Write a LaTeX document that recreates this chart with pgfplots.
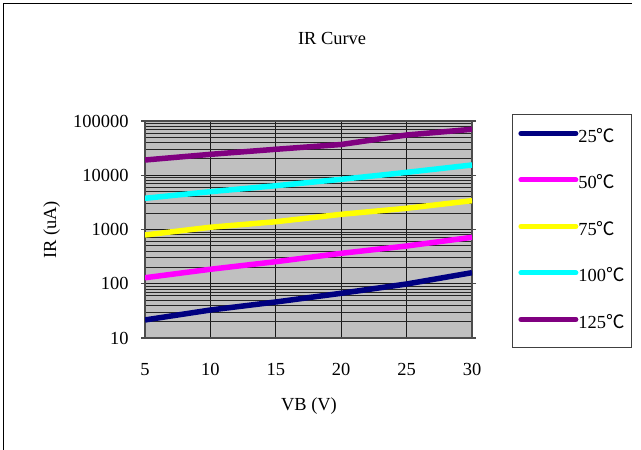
\documentclass[border=0pt]{standalone}
\usepackage{fontspec}
\setmainfont{Liberation Serif}
\newfontfamily\cjk{Noto Sans CJK SC}
\usepackage{pgfplots}
\pgfplotsset{compat=1.18}
\definecolor{plotbg}{RGB}{192,192,192}
\definecolor{cnavy}{RGB}{0,0,128}
\definecolor{cmag}{RGB}{255,0,255}
\definecolor{cyel}{RGB}{255,255,0}
\definecolor{ccyan}{RGB}{0,255,255}
\definecolor{cpurp}{RGB}{128,0,128}
\newcommand{\degc}{{\cjk ℃}}
\begin{document}
\begin{tikzpicture}[x=1bp,y=1bp]
\useasboundingbox (0,0) rectangle (641,450);
\draw[black, line width=1.2bp] (3.5,0) -- (3.5,446.5) -- (632,446.5);
\begin{axis}[
  at={(145bp,112bp)}, anchor=south west,
  scale only axis, width=327bp, height=217bp,
  xmin=5, xmax=30, ymode=log, ymin=10, ymax=100000,
  xtick={5,10,15,20,25,30},
  ytick={10,100,1000,10000,100000},
  yticklabels={10,100,1000,10000,100000},
  /pgf/number format/assume math mode=true,
  font=\fontsize{18.5}{21}\selectfont,
  tick label style={font=\fontsize{18.5}{21}\selectfont},
  x tick label style={yshift=-18bp},
  y tick label style={xshift=-9bp},
  axis background/.style={fill=plotbg},
  axis line style={black!70, line width=1.5bp},
  tick align=outside, major tick length=4bp, minor tick length=0pt,
  xtick style={draw=none},
  ytick style={black!70, line width=1.2bp},
  xmajorgrids, ymajorgrids, yminorgrids,
  major grid style={black!90, line width=1bp},
  minor grid style={black!85, line width=0.9bp},
  title={IR Curve},
  title style={at={(axis description cs:0.572,1.354)}, anchor=center, font=\fontsize{18.5}{21}\selectfont},
  xlabel={VB (V)},
  xlabel style={at={(axis description cs:0.5015,-0.312)}, anchor=center},
  ylabel={IR (uA)},
  ylabel style={at={(axis description cs:-0.285,0.498)}, anchor=center},
  legend cell align=left,
  legend style={at={(1.1223,1.032)}, anchor=north west, draw=black!75, line width=0.8bp, fill=white,
    inner xsep=6bp, inner ysep=15bp, row sep=29.5bp,
    font=\fontsize{18.5}{21}\selectfont,
    nodes={inner sep=0pt, text height=13bp, text depth=4bp, text width=47bp},
    /tikz/every even column/.append style={column sep=4bp}},
  legend image code/.code={\draw[#1, line width=5bp, line cap=round] (0bp,4.5bp) -- (55bp,4.5bp);},
]
\addplot[cnavy, line width=5.5bp] coordinates {(5,21.5) (10,32.8) (15,46.1) (20,66.7) (25,98.9) (30,160)};
\addlegendentry{25\degc}
\addplot[cmag, line width=5.5bp] coordinates {(5,129) (10,185) (15,255) (20,364) (25,496) (30,718)};
\addlegendentry{50\degc}
\addplot[cyel, line width=5.5bp] coordinates {(5,792) (10,1100) (15,1390) (20,1905) (25,2460) (30,3400)};
\addlegendentry{75\degc}
\addplot[ccyan, line width=5.5bp] coordinates {(5,3760) (10,4980) (15,6410) (20,8410) (25,11300) (30,15460)};
\addlegendentry{100\degc}
\addplot[cpurp, line width=5.5bp] coordinates {(5,19100) (10,24300) (15,30100) (20,36900) (25,55200) (30,70300)};
\addlegendentry{125\degc}
\end{axis}
\end{tikzpicture}
\end{document}
